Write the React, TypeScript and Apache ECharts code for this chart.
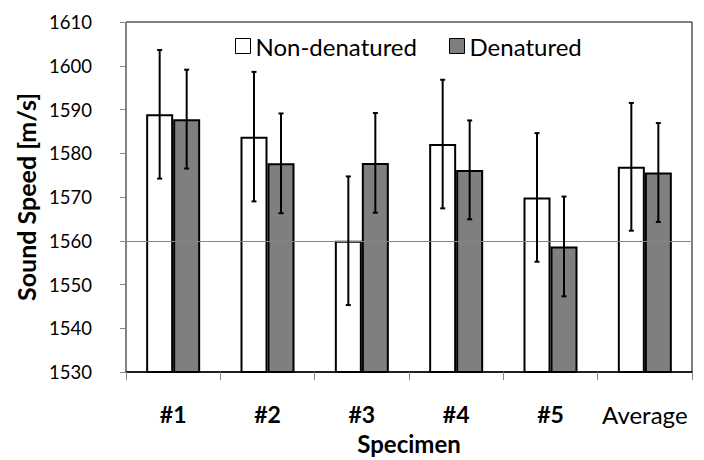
import React, { useEffect, useRef } from "react";
import * as echarts from "echarts";

const categories = ["#1", "#2", "#3", "#4", "#5", "Average"];
const nonDenatured = [1588.9, 1583.8, 1560.0, 1582.1, 1569.9, 1576.9];
const nonDenaturedErr = [14.7, 14.8, 14.7, 14.7, 14.7, 14.6];
const denatured = [1587.8, 1577.7, 1577.8, 1576.2, 1558.7, 1575.6];
const denaturedErr = [11.3, 11.4, 11.4, 11.3, 11.4, 11.3];
const seriesNames = ["Non-denatured", "Denatured"];
const yMin = 1530;
const yMax = 1610;
const yStep = 10;
const refLine = 1560;

const FONT = "Lato";
const BAR_W = 27;

function errorSeries(name: string, means: number[], errs: number[], offset: number) {
  return {
    name: name + " error",
    type: "custom",
    z: 5,
    silent: true,
    data: means.map((m, i) => [i, m - errs[i], m + errs[i]]),
    renderItem: (params: any, api: any) => {
      const idx = api.value(0);
      const lo = api.coord([idx, api.value(1)]);
      const hi = api.coord([idx, api.value(2)]);
      const x = lo[0] + offset;
      const cap = 2.5;
      const style = { stroke: "#000", lineWidth: 2 };
      return {
        type: "group",
        children: [
          { type: "line", shape: { x1: x, y1: lo[1], x2: x, y2: hi[1] }, style },
          { type: "line", shape: { x1: x - cap, y1: lo[1], x2: x + cap, y2: lo[1] }, style },
          { type: "line", shape: { x1: x - cap, y1: hi[1], x2: x + cap, y2: hi[1] }, style },
        ],
      };
    },
  };
}

export default function App() {
  const ref = useRef<HTMLDivElement>(null);
  useEffect(() => {
    if (!ref.current) return;
    const chart = echarts.init(ref.current, undefined, { renderer: "svg" });
    chart.setOption({
      animation: false,
      textStyle: { fontFamily: FONT, color: "#000" },
      grid: {
        left: 126,
        right: 12,
        top: 22,
        bottom: 84,
        show: true,
        borderColor: "#000",
        borderWidth: 1,
        backgroundColor: "transparent",
      },
      legend: {
        data: seriesNames,
        top: 29,
        left: 230,
        itemWidth: 15,
        itemHeight: 15,
        itemGap: 32,
        icon: "rect",
        itemStyle: { borderWidth: 1, borderColor: "#000" },
        textStyle: { fontFamily: FONT, fontSize: 24, color: "#000" },
      },
      xAxis: {
        type: "category",
        data: categories,
        name: "Specimen",
        nameLocation: "middle",
        nameGap: 59,
        nameTextStyle: { fontFamily: FONT, fontSize: 24, fontWeight: "bold", color: "#000" },
        axisLine: { show: true, lineStyle: { color: "#000", width: 1.5 } },
        axisTick: { show: true, alignWithLabel: false, length: 8, lineStyle: { color: "#868686" } },
        axisLabel: {
          margin: 30,
          formatter: (v: string) => (v.startsWith("#") ? `{b|${v}}` : `{r|${v}}`),
          rich: {
            b: { fontFamily: FONT, fontSize: 23, fontWeight: "bold", color: "#000" },
            r: { fontFamily: FONT, fontSize: 24, fontWeight: "normal", color: "#000" },
          },
        },
        splitLine: { show: false },
      },
      yAxis: {
        type: "value",
        min: yMin,
        max: yMax,
        interval: yStep,
        name: "Sound Speed [m/s]",
        nameLocation: "middle",
        nameRotate: 90,
        nameGap: 84,
        nameTextStyle: { fontFamily: FONT, fontSize: 25, fontWeight: "bold", color: "#000" },
        axisLine: { show: true, lineStyle: { color: "#868686", width: 1 } },
        axisTick: { show: true, length: 6, lineStyle: { color: "#868686" } },
        axisLabel: {
          margin: 34,
          fontFamily: FONT,
          fontSize: 18.5,
          color: "#000",
          formatter: (v: number) => String(v),
        },
        splitLine: { show: false },
      },
      series: [
        {
          name: "ref",
          type: "line",
          data: [],
          z: 0,
          silent: true,
          markLine: {
            silent: true,
            symbol: "none",
            label: { show: false },
            lineStyle: { color: "#868686", width: 1, type: "solid" },
            data: [{ yAxis: refLine }],
          },
        },
        {
          name: seriesNames[0],
          type: "bar",
          z: 2,
          barWidth: BAR_W,
          barGap: "0%",
          data: nonDenatured,
          itemStyle: { color: "#ffffff", borderColor: "#000", borderWidth: 2 },
        },
        {
          name: seriesNames[1],
          type: "bar",
          z: 2,
          barWidth: BAR_W,
          barGap: "0%",
          data: denatured,
          itemStyle: { color: "#7f7f7f", borderColor: "#000", borderWidth: 2 },
        },
        errorSeries(seriesNames[0], nonDenatured, nonDenaturedErr, -BAR_W / 2),
        errorSeries(seriesNames[1], denatured, denaturedErr, BAR_W / 2),
      ],
    });
    return () => chart.dispose();
  }, []);
  return <div ref={ref} style={{ width: 704, height: 460, position: "absolute", left: 0, top: 0 }} />;
}
